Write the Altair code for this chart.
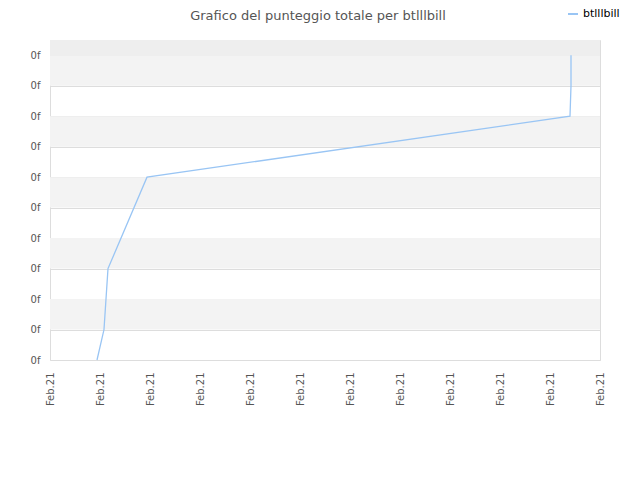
import altair as alt
import pandas as pd

# Series (x in arbitrary time units within Feb.21, y = punteggio)
xs = [0.94, 1.08, 1.16, 1.94, 10.40, 10.42, 10.42]
ys = [0, 1, 3, 6, 8, 9, 10]
series_name = "btlllbill"
title_text = "Grafico del punteggio totale per btlllbill"

# background bands
band_lo = [1, 3, 5, 7, 9, 10]
band_hi = [2, 4, 6, 8, 10, 10.5]
band_col = ["#f3f3f3", "#f3f3f3", "#f3f3f3", "#f3f3f3", "#f3f3f3", "#eeeeee"]

x_ticks = list(range(0, 12))
y_ticks = list(range(0, 11))

line_df = pd.DataFrame({"x": xs, "y": ys, "serie": [series_name] * len(xs)})
band_df = pd.DataFrame({"lo": band_lo, "hi": band_hi, "c": band_col})

xscale = alt.Scale(domain=[0, 11], nice=False, zero=False)
yscale = alt.Scale(domain=[0, 10.5], nice=False)

yaxis = alt.Axis(values=y_ticks, labelExpr="'0f'", ticks=False,
                 grid=True, gridColor="#dddddd", domain=False,
                 labelPadding=10, labelFont="DejaVu Sans",
                 labelFontSize=10, labelColor="#555555")
xaxis = alt.Axis(values=x_ticks, labelExpr="'Feb.21'", labelAngle=-90,
                 labelAlign="right", labelBaseline="middle",
                 labelPadding=12, ticks=False, grid=False, domain=False,
                 labelFont="DejaVu Sans", labelFontSize=10,
                 labelColor="#555555")

bands = alt.Chart(band_df).mark_rect().encode(
    x=alt.value(0), x2=alt.value(550),
    y=alt.Y("lo:Q", scale=yscale, axis=yaxis, title=None),
    y2="hi:Q",
    fill=alt.Fill("c:N", scale=None, legend=None),
)

line = alt.Chart(line_df).mark_line(strokeWidth=1.3, interpolate="linear").encode(
    x=alt.X("x:Q", scale=xscale, title=None, axis=xaxis),
    y=alt.Y("y:Q", scale=yscale, title=None, axis=yaxis),
    color=alt.Color("serie:N", scale=alt.Scale(range=["#99c5f4"]),
                    legend=alt.Legend(title=None, orient="none", legendX=517,
                                      legendY=-32, symbolType="stroke",
                                      symbolSize=100, symbolStrokeWidth=2,
                                      labelFont="DejaVu Sans", labelFontSize=11,
                                      labelColor="#000000")),
)

title = alt.Chart(pd.DataFrame({"t": [title_text]})).mark_text(
    font="DejaVu Sans", fontSize=13, color="#555555", align="center",
    baseline="alphabetic",
).encode(text="t:N", x=alt.value(268), y=alt.value(-20))

chart = alt.layer(bands, line, title).properties(
    width=550, height=320,
    autosize=alt.AutoSizeParams(type="none"),
    padding={"left": 42, "top": 32, "right": 30, "bottom": 100},
).configure_view(stroke="#d9d9d9", strokeWidth=1).configure(background="white")

chart.save("out.html", embed_options={"renderer": "svg", "actions": False})
